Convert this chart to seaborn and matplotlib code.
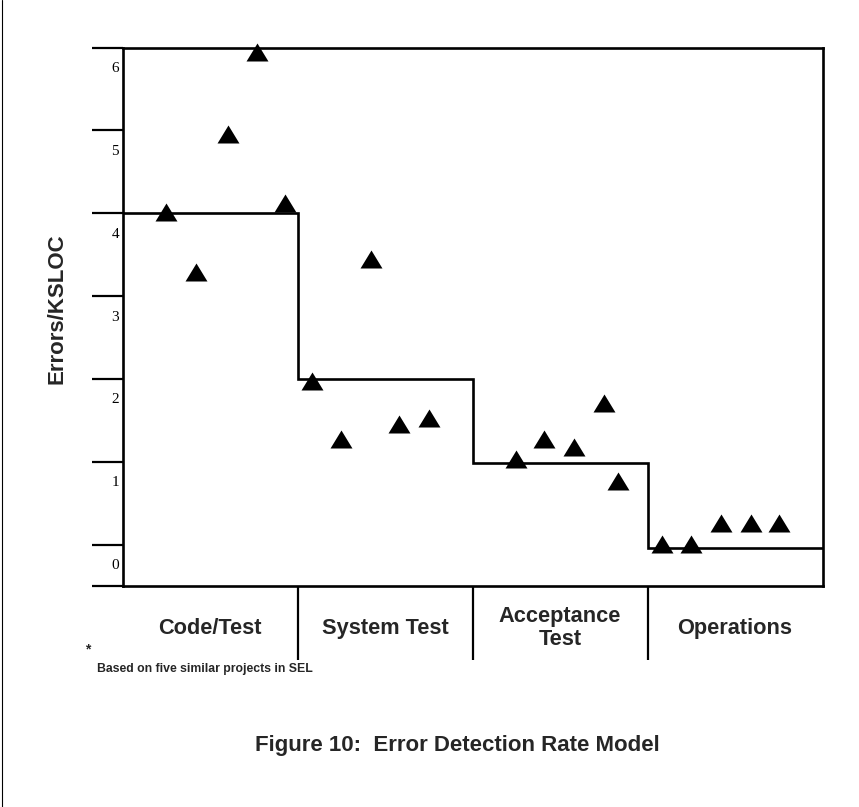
import numpy as np
import pandas as pd
import matplotlib
matplotlib.use("Agg")
import matplotlib.pyplot as plt
import matplotlib.transforms as mtransforms
from matplotlib.lines import Line2D
from matplotlib.markers import MarkerStyle
import seaborn as sns

# ---------------- data ----------------
phases = ["Code/Test", "System Test", "Acceptance\nTest", "Operations"]
phase_rate = [4.0, 2.0, 0.98, -0.04]          # model level per phase (Errors/KSLOC)

proj_x = [0.25, 0.42, 0.60, 0.77, 0.93,
          1.08, 1.25, 1.42, 1.58, 1.75,
          2.25, 2.41, 2.58, 2.75, 2.83,
          3.08, 3.25, 3.42, 3.59, 3.75]
proj_rate = [4.02, 3.29, 4.96, 5.95, 4.12,
             1.98, 1.28, 3.45, 1.45, 1.53,
             1.03, 1.27, 1.18, 1.71, 0.77,
             0.01, 0.01, 0.26, 0.26, 0.26]

y_ticks = [0, 1, 2, 3, 4, 5, 6]
y_tick_labels = ["0", "1", "2", "3", "4", "5", "6"]

y_label = "Errors/KSLOC"
footnote_mark = "*"
footnote = "Based on five similar projects in SEL"
title = "Figure 10:  Error Detection Rate Model"

# ---------------- style ----------------
sns.set_style("white")
plt.rcParams["font.family"] = ["Liberation Sans", "DejaVu Sans"]

W, H, DPI = 859, 807, 100
fig = plt.figure(figsize=(W / DPI, H / DPI), dpi=DPI)
fig.patch.set_facecolor("white")

x0, x1 = 122.5, 822.5
ytop, ybot = 47.5, 586.0
ax = fig.add_axes([x0 / W, 1 - ybot / H, (x1 - x0) / W, (ybot - ytop) / H])
ax.set_facecolor("white")

df = pd.DataFrame({"x": proj_x, "rate": proj_rate})
tri = MarkerStyle([(0, 0.82), (-1, -0.82), (1, -0.82)])
sns.scatterplot(data=df, x="x", y="rate", marker=tri, s=250, color="black",
                edgecolor="black", linewidth=0, ax=ax, zorder=3, legend=False,
                clip_on=False)

edges = np.arange(len(phases) + 1)
ax.step(edges, phase_rate + [phase_rate[-1]], where="post", color="black",
        lw=1.9, zorder=2, solid_joinstyle="miter")

ax.set_xlim(0, len(phases))
ax.set_ylim(-0.5, 6)

for s in ax.spines.values():
    s.set_visible(True)
    s.set_color("black")
    s.set_linewidth(1.9)

# y ticks: long outward ticks, labels tucked beneath each tick line
ax.set_yticks(y_ticks)
ax.set_yticklabels(y_tick_labels, family=["Liberation Serif", "DejaVu Serif"], fontsize=11)
ax.set_yticks([-0.5], minor=True)
ax.tick_params(axis="y", which="both", direction="out", length=22, width=1.6,
               pad=0, colors="black", left=True)
offset = mtransforms.ScaledTranslation(27 / DPI, -19.5 / DPI, fig.dpi_scale_trans)
for lab in ax.get_yticklabels():
    lab.set_transform(lab.get_transform() + offset)

# x: phase dividers
ax.set_xticks(edges[1:-1])
ax.set_xticklabels([])
ax.tick_params(axis="x", which="major", direction="out", length=53, width=1.6,
               bottom=True, colors="black")

ax.set_xlabel("")
ax.set_ylabel(y_label, fontsize=16, fontweight="bold")
ax.yaxis.set_label_coords(-0.079, 0.515)

trans = mtransforms.blended_transform_factory(ax.transData, ax.transAxes)
for i, name in enumerate(phases):
    ax.text(i + 0.5, -0.078, name, transform=trans, ha="center", va="center",
            multialignment="center", fontsize=15.7, fontweight="bold",
            linespacing=1.1)

fig.text(88 / W, 1 - 649 / H, footnote_mark, fontsize=10, fontweight="bold",
         ha="center", va="center")
fig.text(97 / W, 1 - 669 / H, footnote, fontsize=8.8, fontweight="bold",
         ha="left", va="center")
fig.text(457 / W, 1 - 745 / H, title, fontsize=16, fontweight="bold",
         ha="center", va="center")

# page border remnant on the left edge
fig.add_artist(Line2D([2 / W, 2 / W], [0.0, 1.0], transform=fig.transFigure,
                      color="black", lw=0.8))

fig.savefig("out.png", dpi=DPI, facecolor="white")
